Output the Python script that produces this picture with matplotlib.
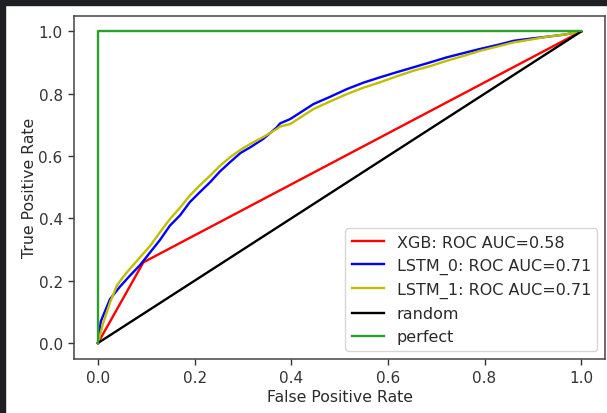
import matplotlib
matplotlib.use("Agg")
import matplotlib.pyplot as plt
from matplotlib.patches import Rectangle

# XGB ROC (one threshold)
xgb_fpr = [0.0, 0.094, 1.0]
xgb_tpr = [0.0, 0.259, 1.0]

# LSTM_0 ROC
lstm0_fpr = [0.0, 0.006, 0.014, 0.025, 0.045, 0.066, 0.087, 0.108, 0.128, 0.149, 0.17, 0.19,
             0.21, 0.232, 0.252, 0.273, 0.295, 0.315, 0.342, 0.37, 0.377, 0.398, 0.446,
             0.48, 0.515, 0.55, 0.584, 0.62, 0.653, 0.69, 0.722, 0.76, 0.791, 0.83,
             0.86, 0.9, 0.929, 0.965, 1.0]
lstm0_tpr = [0.0, 0.07, 0.1, 0.141, 0.18, 0.216, 0.25, 0.291, 0.33, 0.377, 0.41, 0.452,
             0.483, 0.516, 0.55, 0.58, 0.61, 0.628, 0.655, 0.692, 0.705, 0.719, 0.767,
             0.79, 0.815, 0.836, 0.853, 0.87, 0.885, 0.902, 0.917, 0.932, 0.944, 0.958,
             0.97, 0.978, 0.983, 0.99, 1.0]

# LSTM_1 ROC
lstm1_fpr = [0.0, 0.01, 0.025, 0.039, 0.052, 0.066, 0.087, 0.108, 0.128, 0.149, 0.17, 0.19,
             0.21, 0.232, 0.252, 0.273, 0.295, 0.315, 0.342, 0.37, 0.377, 0.398, 0.446,
             0.48, 0.515, 0.55, 0.584, 0.62, 0.653, 0.69, 0.722, 0.76, 0.791, 0.83,
             0.86, 0.9, 0.929, 0.965, 1.0]
lstm1_tpr = [0.0, 0.06, 0.13, 0.184, 0.212, 0.238, 0.275, 0.312, 0.355, 0.398, 0.435, 0.473,
             0.505, 0.537, 0.568, 0.596, 0.62, 0.639, 0.661, 0.687, 0.695, 0.703, 0.751,
             0.775, 0.799, 0.82, 0.837, 0.857, 0.874, 0.89, 0.906, 0.923, 0.938, 0.953,
             0.965, 0.975, 0.983, 0.99, 1.0]

random_x = [0, 1]
random_y = [0, 1]
perfect_x = [0, 0, 1]
perfect_y = [0, 1, 1]

labels = ["XGB: ROC AUC=0.58", "LSTM_0: ROC AUC=0.71", "LSTM_1: ROC AUC=0.71", "random", "perfect"]

fig = plt.figure(figsize=(6.07, 4.14), dpi=100)
ax = fig.add_axes([73.8 / 607, 1 - 359.6 / 414, (605.3 - 73.8) / 607, (359.6 - 16.9) / 414])

lw = 1.7
ax.plot(xgb_fpr, xgb_tpr, color="r", lw=lw, label=labels[0])
ax.plot(lstm0_fpr, lstm0_tpr, color="b", lw=lw, label=labels[1])
ax.plot(lstm1_fpr, lstm1_tpr, color="y", lw=lw, label=labels[2])
ax.plot(random_x, random_y, color="k", lw=lw, label=labels[3])
ax.plot(perfect_x, perfect_y, color="tab:green", lw=lw, label=labels[4])

ax.set_xlim(-0.05, 1.05)
ax.set_ylim(-0.05, 1.05)
ax.set_xticks([0, 0.2, 0.4, 0.6, 0.8, 1.0])
ax.set_yticks([0, 0.2, 0.4, 0.6, 0.8, 1.0])
ax.tick_params(labelsize=11, colors="#333333", width=1.0, length=4.5)
for s in ax.spines.values():
    s.set_color("#444444")
    s.set_linewidth(1.1)
ax.set_xlabel("False Positive Rate", fontsize=11.3, color="#2a2a2a", labelpad=3)
ax.set_ylabel("True Positive Rate", fontsize=11.3, color="#2a2a2a", labelpad=1)
leg = ax.legend(loc="lower right", fontsize=11.5, handlelength=2.0)
for t in leg.get_texts():
    t.set_color("#2a2a2a")

# dark notebook frame around the screenshot
dark = "#1e1f22"
fig.patches.append(Rectangle((0, 1 - 6 / 414), 1, 6 / 414, transform=fig.transFigure,
                             color=dark, zorder=10))
fig.patches.append(Rectangle((0, 0), 5 / 607, 1, transform=fig.transFigure,
                             color=dark, zorder=10))

plt.savefig("out.png", dpi=100)
